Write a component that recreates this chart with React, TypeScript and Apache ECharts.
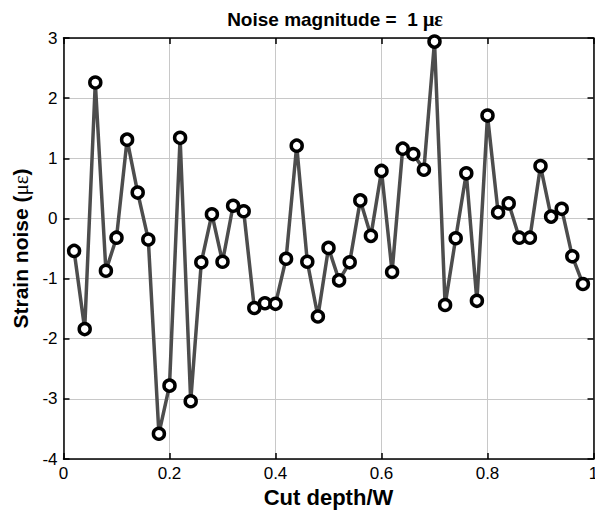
import React, { useEffect, useRef } from "react";
import * as echarts from "echarts";

const xValues = [0.02,0.04,0.06,0.08,0.10,0.12,0.14,0.16,0.18,0.20,0.22,0.24,0.26,0.28,0.30,0.32,0.34,0.36,0.38,0.40,0.42,0.44,0.46,0.48,0.50,0.52,0.54,0.56,0.58,0.60,0.62,0.64,0.66,0.68,0.70,0.72,0.74,0.76,0.78,0.80,0.82,0.84,0.86,0.88,0.90,0.92,0.94,0.96,0.98];
const noiseValues = [-0.54,-1.84,2.26,-0.87,-0.32,1.31,0.43,-0.35,-3.58,-2.78,1.34,-3.04,-0.73,0.07,-0.72,0.21,0.12,-1.49,-1.41,-1.42,-0.67,1.21,-0.72,-1.63,-0.49,-1.03,-0.73,0.30,-0.29,0.79,-0.89,1.16,1.07,0.81,2.94,-1.44,-0.33,0.75,-1.37,1.71,0.10,0.25,-0.32,-0.32,0.87,0.03,0.16,-0.63,-1.09];

const xMin = 0, xMax = 1, xInterval = 0.2;
const yMin = -4, yMax = 3, yInterval = 1;

export default function App() {
  const ref = useRef<HTMLDivElement>(null);
  useEffect(() => {
    if (!ref.current) return;
    const chart = echarts.init(ref.current, null, { renderer: "svg" });
    const sans = "Arial, 'Liberation Sans', Helvetica, sans-serif";
    const serif = "'Liberation Serif', 'DejaVu Serif', serif";
    const axisLine = { show: true, onZero: false, lineStyle: { color: "#000", width: 1.5 } };
    const axisTick = { show: true, inside: true, length: 6, lineStyle: { color: "#000", width: 1.5 } };
    const grid = { show: true, lineStyle: { color: "#c8c8c8", width: 1 } };
    chart.setOption({
      animation: false,
      backgroundColor: "#fff",
      title: {
        text: "{a|Noise magnitude =  1 }{b|με}",
        left: 330,
        textAlign: "center",
        top: 4,
        textStyle: {
          rich: {
            a: { fontFamily: sans, fontWeight: "bold", fontSize: 19, color: "#000" },
            b: { fontFamily: serif, fontSize: 20, color: "#000" },
          },
        },
      },
      grid: { left: 63.5, right: 1.5, top: 38, bottom: 58, containLabel: false, outerBoundsMode: "none" },
      xAxis: [
        {
          type: "value",
          position: "bottom",
          min: xMin, max: xMax, interval: xInterval,
          axisLine, axisTick,
          axisLabel: { color: "#000", fontSize: 17, fontFamily: sans, margin: 6, formatter: (v: number) => String(+v.toFixed(1)) },
          splitLine: grid,
          name: "Cut depth/W",
          nameLocation: "middle",
          nameGap: 27,
          nameTextStyle: { color: "#000", fontSize: 22, fontWeight: "bold", fontFamily: sans, verticalAlign: "top" },
        },
        {
          type: "value",
          position: "top",
          min: xMin, max: xMax, interval: xInterval,
          axisLine, axisTick,
          axisLabel: { show: false },
          splitLine: { show: false },
        },
      ],
      yAxis: [
        {
          type: "value",
          position: "left",
          min: yMin, max: yMax, interval: yInterval,
          axisLine, axisTick,
          axisLabel: { color: "#000", fontSize: 17, fontFamily: sans, margin: 6 },
          splitLine: grid,
          name: "{a|Strain noise (}{b|με}{a|)}",
          nameLocation: "middle",
          nameGap: 32,
          nameTextStyle: {
            rich: {
              a: { color: "#000", fontSize: 21, fontWeight: "bold", fontFamily: sans },
              b: { color: "#000", fontSize: 21, fontFamily: serif },
            },
          },
        },
        {
          type: "value",
          position: "right",
          min: yMin, max: yMax, interval: yInterval,
          axisLine, axisTick,
          axisLabel: { show: false },
          splitLine: { show: false },
        },
      ],
      series: [
        {
          type: "line",
          xAxisIndex: 0,
          yAxisIndex: 0,
          data: xValues.map((x, i) => [x, noiseValues[i]]),
          lineStyle: { color: "#4d4d4d", width: 3.5 },
          symbol: "circle",
          symbolSize: 11,
          showAllSymbol: true,
          itemStyle: { color: "#fff", borderColor: "#000", borderWidth: 3.5 },
          z: 3,
        },
      ],
    });
    return () => chart.dispose();
  }, []);
  return <div ref={ref} style={{ position: "fixed", left: 0, top: 0, width: 595, height: 517 }} />;
}
